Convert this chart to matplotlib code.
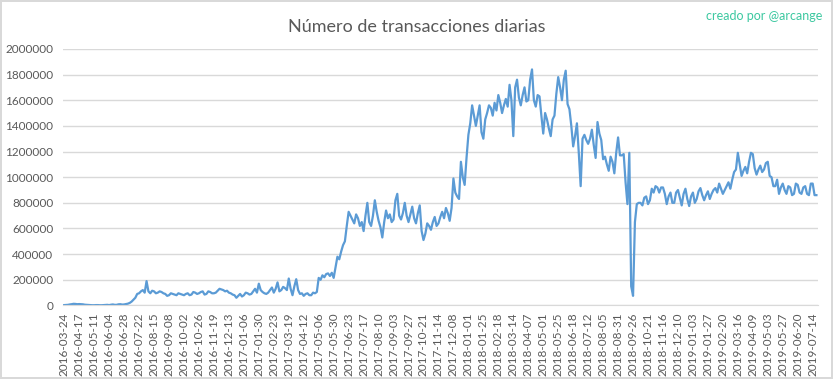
import numpy as np
import matplotlib
matplotlib.use("Agg")
import matplotlib.pyplot as plt
from matplotlib.ticker import FuncFormatter

plt.rcParams['font.family'] = ['Lato', 'DejaVu Sans']

# daily transactions (thousands), read every 3rd category of the excel axis
step = 3
transacciones_k = [
    3, 4, 5, 8, 10, 13, 12, 10, 11, 10, 9, 6, 5, 4, 3, 2, 2, 3, 3, 2,
    2, 3, 4, 5, 3, 6, 8, 5, 5, 9, 10, 7, 8, 11, 14, 20, 30, 45, 60, 90,
    95, 110, 120, 100, 190, 110, 95, 115, 110, 95, 100, 110, 105, 95, 90, 75, 80, 95, 90, 85,
    80, 95, 90, 85, 80, 90, 95, 80, 85, 105, 100, 90, 95, 105, 110, 85, 90, 110, 105, 95,
    95, 100, 115, 130, 125, 120, 110, 115, 100, 95, 85, 80, 60, 75, 90, 70, 80, 100, 95, 85,
    90, 110, 130, 100, 170, 120, 105, 95, 90, 100, 120, 140, 100, 130, 180, 110, 120, 145, 135, 120,
    210, 130, 80, 150, 205, 120, 90, 95, 75, 90, 95, 80, 80, 100, 95, 105, 215, 200, 235, 220,
    245, 250, 230, 255, 215, 300, 380, 360, 420, 470, 500, 620, 730, 700, 670, 640, 710, 680, 620, 650,
    580, 700, 800, 650, 620, 700, 820, 730, 660, 610, 530, 650, 740, 680, 710, 650, 670, 820, 870, 700,
    670, 720, 800, 700, 650, 710, 770, 680, 640, 720, 780, 580, 510, 560, 640, 620, 590, 650, 690, 620,
    640, 690, 730, 680, 760, 720, 660, 760, 990, 880, 850, 830, 1120, 1000, 940, 1150, 1330, 1420, 1560, 1480,
    1400, 1480, 1560, 1350, 1300, 1450, 1500, 1560, 1540, 1480, 1580, 1520, 1640, 1580, 1500, 1560, 1610, 1550, 1720, 1600,
    1320, 1700, 1760, 1620, 1560, 1640, 1700, 1590, 1600, 1760, 1840, 1600, 1550, 1640, 1630, 1480, 1340, 1500, 1450, 1380,
    1320, 1450, 1480, 1650, 1780, 1700, 1600, 1760, 1830, 1570, 1530, 1400, 1240, 1320, 1420, 1190, 930, 1300, 1330, 1290,
    1260, 1300, 1370, 1250, 1150, 1430, 1340, 1290, 1140, 1160, 1100, 1050, 1160, 1120, 1030, 1190, 1310, 1170, 1170, 1180,
    960, 790, 1190, 150, 75, 650, 790, 800, 800, 780, 840, 850, 790, 820, 910, 880, 930, 920, 880, 920,
    920, 870, 790, 850, 880, 800, 800, 880, 900, 840, 780, 870, 910, 830, 775, 850, 880, 800, 830, 890,
    915, 860, 820, 860, 890, 830, 870, 900, 915, 880, 950, 910, 870, 900, 930, 960, 910, 980, 1040, 1060,
    1190, 1100, 1010, 1050, 1080, 1030, 1120, 1190, 1180, 1070, 1020, 1060, 1090, 1040, 1060, 1110, 1120, 1010, 1000, 930,
    930, 980, 870, 920, 950, 900, 870, 930, 920, 860, 870, 950, 940, 880, 870, 920, 930, 870, 860, 950,
    950, 860, 860,
]

# one label every 24 categories
tick_every = 24
fechas = [
    "2016-03-24", "2016-04-17", "2016-05-11", "2016-06-04", "2016-06-28", "2016-07-22",
    "2016-08-15", "2016-09-08", "2016-10-02", "2016-10-26", "2016-11-19", "2016-12-13",
    "2017-01-06", "2017-01-30", "2017-02-23", "2017-03-19", "2017-04-12", "2017-05-06",
    "2017-05-30", "2017-06-23", "2017-07-17", "2017-08-10", "2017-09-03", "2017-09-27",
    "2017-10-21", "2017-11-14", "2017-12-08", "2018-01-01", "2018-01-25", "2018-02-18",
    "2018-03-14", "2018-04-07", "2018-05-01", "2018-05-25", "2018-06-18", "2018-07-12",
    "2018-08-05", "2018-08-31", "2018-09-26", "2018-10-21", "2018-11-16", "2018-12-10",
    "2019-01-03", "2019-01-27", "2019-02-20", "2019-03-16", "2019-04-09", "2019-05-03",
    "2019-05-27", "2019-06-20", "2019-07-14",
]

y = np.array(transacciones_k) * 1000
x = np.arange(len(y)) * step

fig = plt.figure(figsize=(8.33, 3.79), dpi=100)
fig.patch.set_edgecolor('#D9D9D9')
fig.patch.set_linewidth(1.5)
ax = fig.add_axes([0.0756, 0.194, 0.906, 0.677])

ax.plot(x, y, color='#5B9BD5', linewidth=1.6)

ax.set_ylim(0, 2000000)
ax.set_yticks(np.arange(0, 2000001, 200000))
ax.yaxis.set_major_formatter(FuncFormatter(lambda v, p: "%d" % v))
ax.set_xlim(-2, 1208)
ax.set_xticks(np.arange(len(fechas)) * tick_every)
ax.set_xticklabels(fechas, rotation=90)

ax.grid(axis='y', color='#D9D9D9', linewidth=1)
ax.set_axisbelow(True)
for s in ['top', 'right', 'left']:
    ax.spines[s].set_visible(False)
ax.spines['bottom'].set_color('#D9D9D9')
ax.tick_params(axis='both', length=0, colors='#595959', labelsize=8.5)
ax.tick_params(axis='y', pad=7)
ax.tick_params(axis='x', pad=5)

fig.text(0.5, 0.93, "Número de transacciones diarias", ha='center', va='center',
         fontsize=13, color='#595959')
fig.text(0.987, 0.958, "creado por @arcange", ha='right', va='center',
         fontsize=9, color='#3CC8A0')

fig.savefig("out.png", dpi=100)
